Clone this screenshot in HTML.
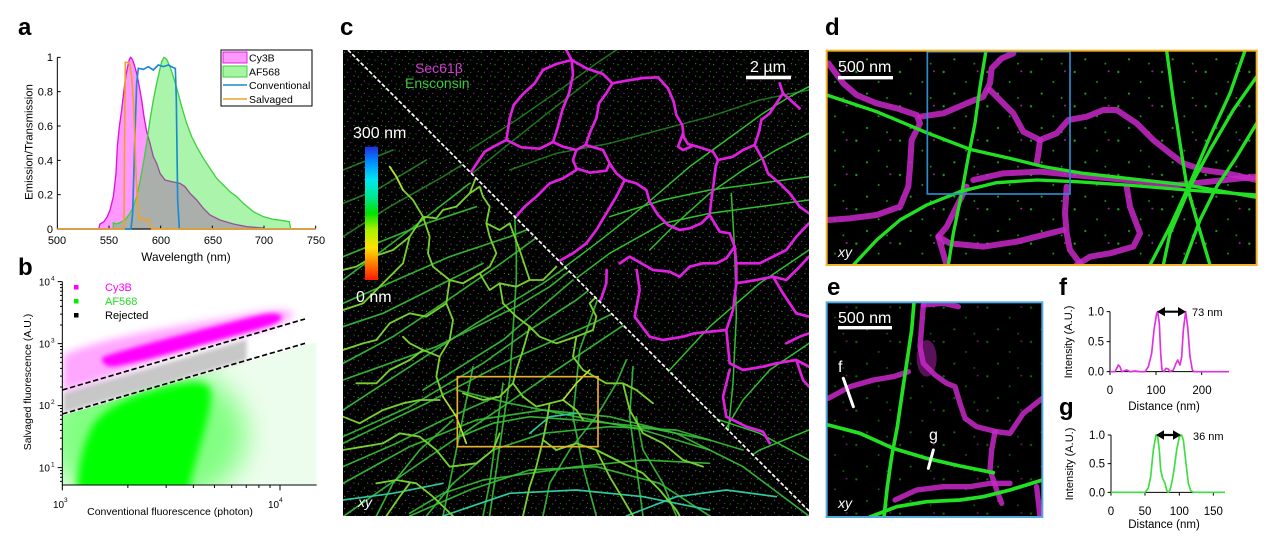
<!DOCTYPE html>
<html><head><meta charset="utf-8"><title>figure</title>
<style>
html,body{margin:0;padding:0;background:#fff;width:1269px;height:547px;overflow:hidden}
svg{display:block;font-family:"Liberation Sans",Arial,sans-serif}
</style></head><body>
<svg xmlns="http://www.w3.org/2000/svg" width="1269" height="547" viewBox="0 0 1269 547">
<defs>
<linearGradient id="cbar" x1="0" y1="1" x2="0" y2="0">
<stop offset="0" stop-color="#ff1a00"/>
<stop offset="0.12" stop-color="#ff7a00"/>
<stop offset="0.24" stop-color="#ffe000"/>
<stop offset="0.38" stop-color="#a8f000"/>
<stop offset="0.5" stop-color="#00e000"/>
<stop offset="0.62" stop-color="#00e890"/>
<stop offset="0.75" stop-color="#00e8f0"/>
<stop offset="0.88" stop-color="#0090ff"/>
<stop offset="1" stop-color="#2030e0"/>
</linearGradient>
<filter id="b6" x="-30%" y="-30%" width="160%" height="160%"><feGaussianBlur stdDeviation="6"/></filter>
<filter id="b12" x="-30%" y="-30%" width="160%" height="160%"><feGaussianBlur stdDeviation="12"/></filter>
<filter id="b40" x="-50%" y="-50%" width="200%" height="200%"><feGaussianBlur stdDeviation="40"/></filter>
<clipPath id="cpB"><rect x="187" y="110" width="763" height="610"/></clipPath>
<clipPath id="cpBG"><polygon points="187,512 915,300 950,292 950,720 187,720"/></clipPath>
<clipPath id="cpUR"><polygon points="15,0 1398,0 1398,1383"/></clipPath>
<clipPath id="cpLL"><polygon points="0,0 15,0 1398,1383 1398,1398 0,1398"/></clipPath>
<clipPath id="cpC"><rect x="0" y="0" width="1398" height="1398"/></clipPath>
<clipPath id="cpD"><rect x="50" y="152" width="1290" height="643"/></clipPath>
<clipPath id="cpE"><rect x="50" y="97" width="647" height="644"/></clipPath>
<pattern id="spk" width="41" height="37" patternUnits="userSpaceOnUse">
<circle cx="5" cy="7" r="1.7" fill="#3c3"/>
<circle cx="23" cy="19" r="1.7" fill="#c4c"/>
<circle cx="33" cy="4" r="1.4" fill="#8c8"/>
<circle cx="14" cy="30" r="1.6" fill="#3b3"/>
<circle cx="37" cy="28" r="1.3" fill="#999"/>
</pattern>
<pattern id="spk2" width="131" height="103" patternUnits="userSpaceOnUse">
<circle cx="8" cy="10" r="3.5" fill="#2c2"/>
<circle cx="75" cy="40" r="3" fill="#2b2"/>
<circle cx="110" cy="8" r="3" fill="#b3b"/>
<circle cx="40" cy="75" r="3.2" fill="#2c2"/>
<circle cx="100" cy="88" r="2.8" fill="#2b2"/>
</pattern>
</defs>

<!-- ================= PANEL A ================= -->
<text x="18" y="35" font-size="24" font-weight="bold">a</text>
<g transform="scale(0.333333)">
<path d="M296,687 L300,672 L312,665 L322,650 L330,630 L340,590 L348,520 L352,440 L358,380 L365,330 L372,270 L378,225 L383,200 L388,178 L392,172 L397,178 L403,195 L410,220 L417,255 L425,300 L432,350 L440,395 L450,430 L460,470 L470,490 L480,520 L495,540 L515,545 L540,550 L555,560 L570,580 L590,600 L610,625 L630,645 L660,660 L700,672 L740,680 L790,684 L795,687 Z" fill="#ff00ff" fill-opacity="0.4" stroke="#e010e0" stroke-width="4"/>
<path d="M340,687 L340,668 L348,672 L360,668 L375,660 L390,640 L400,620 L410,590 L420,545 L430,490 L440,430 L450,360 L460,300 L470,250 L478,215 L485,185 L492,172 L500,178 L510,200 L520,230 L532,270 L545,320 L560,370 L575,410 L590,440 L610,475 L630,505 L650,535 L670,555 L690,575 L710,590 L730,610 L760,635 L790,650 L820,658 L850,662 L868,665 L872,687 Z" fill="#00dd00" fill-opacity="0.33" stroke="#3cd23c" stroke-width="4"/>
<path d="M172,172 V687 H947" fill="none" stroke="#000" stroke-width="3"/>
<path d="M172,172 h10 M172,275 h10 M172,378 h10 M172,481 h10 M172,584 h10 M327,687 v-10 M482,687 v-10 M637,687 v-10 M792,687 v-10 M947,687 v-10" stroke="#000" stroke-width="3"/>
<path d="M172,687 L393,687 L398,640 L405,400 L410,250 L415,205 L430,208 L445,200 L460,210 L475,195 L490,200 L505,195 L520,203 L526,205 L529,300 L533,600 L538,687 L947,687" fill="none" stroke="#1a8ad4" stroke-width="5"/>
<path d="M172,687 L372,687 L374,400 L376,187 L385,187 L390,195 L395,230 L400,300 L404,400 L408,520 L412,600 L416,650 L420,660 L428,655 L435,662 L442,658 L448,665 L452,680 L456,687 L947,687" fill="none" stroke="#f0a030" stroke-width="5"/>
</g>
<g font-size="11" text-anchor="end">
<text x="53" y="61">1</text><text x="53" y="95.5">0.8</text><text x="53" y="130">0.6</text><text x="53" y="164.3">0.4</text><text x="53" y="198.7">0.2</text><text x="53" y="233">0</text>
</g>
<g font-size="11" text-anchor="middle">
<text x="57" y="244">500</text><text x="109" y="244">550</text><text x="161" y="244">600</text><text x="213" y="244">650</text><text x="264" y="244">700</text><text x="316" y="244">750</text>
</g>
<text x="186" y="261" font-size="11.8" text-anchor="middle">Wavelength (nm)</text>
<text transform="translate(32.5,142) rotate(-90)" font-size="11.3" text-anchor="middle">Emission/Transmission</text>
<rect x="221" y="50" width="91" height="56" fill="#fff" stroke="#000" stroke-width="1"/>
<rect x="223" y="52" width="24" height="11" fill="#ff99ff" stroke="#e020e0" stroke-width="1"/>
<rect x="223" y="66" width="24" height="11" fill="#a6f5a0" stroke="#40d040" stroke-width="1"/>
<line x1="223" y1="85" x2="247" y2="85" stroke="#1a8ad4" stroke-width="1.4"/>
<line x1="223" y1="99" x2="247" y2="99" stroke="#f0a030" stroke-width="1.4"/>
<g font-size="10.5">
<text x="249" y="61.3">Cy3B</text><text x="249" y="75.3">AF568</text><text x="249" y="88.8">Conventional</text><text x="249" y="102.8">Salvaged</text>
</g>

<!-- ================= PANEL B ================= -->
<text x="18" y="275" font-size="24" font-weight="bold">b</text>
<g transform="translate(0,245) scale(0.333333)">
<g clip-path="url(#cpB)">
<path d="M190,445 L740,283 L740,345 L190,505 Z" fill="#000" fill-opacity="0.22" filter="url(#b6)"/>
<g clip-path="url(#cpBG)">
<rect x="187" y="280" width="763" height="440" fill="#00e000" fill-opacity="0.07"/>
<ellipse cx="440" cy="570" rx="300" ry="220" fill="#00ff00" fill-opacity="0.45" filter="url(#b40)"/>
</g>
<path d="M270,560 C290,500 380,455 480,432 C560,410 620,400 632,435 C640,500 590,620 565,740 L230,740 C235,660 250,600 270,560 Z" fill="#00ff00" filter="url(#b12)"/>
<path d="M190,330 C300,280 500,250 700,215 C780,200 850,185 880,205 C870,240 760,260 650,290 C500,330 350,390 190,440 Z" fill="#ff00ff" fill-opacity="0.35" filter="url(#b12)"/>
<path d="M310,335 C420,300 600,255 760,215 C800,205 835,200 845,215 C845,235 800,245 740,262 C600,300 450,345 340,365 C310,365 300,345 310,335 Z" fill="#ff00ff" filter="url(#b6)"/>
</g>
<line x1="187" y1="435" x2="915" y2="222" stroke="#000" stroke-width="5" stroke-dasharray="16,8"/>
<line x1="187" y1="507" x2="915" y2="295" stroke="#000" stroke-width="5" stroke-dasharray="16,8"/>
<path d="M187,110 V720 H950" fill="none" stroke="#000" stroke-width="3"/>
<path d="M173,110H187 M180,118.5H187 M180,128H187 M180,138.8H187 M180,151.3H187 M180,166H187 M180,184H187 M180,207.2H187 M180,240H187 M173,296H187 M180,304.5H187 M180,314H187 M180,324.8H187 M180,337.3H187 M180,352H187 M180,370H187 M180,393.2H187 M180,426H187 M173,482H187 M180,490.5H187 M180,500H187 M180,510.8H187 M180,523.3H187 M180,538H187 M180,556H187 M180,579.2H187 M180,612H187 M173,668H187 M180,676.5H187 M180,686H187 M180,696.8H187 M180,709.3H187" stroke="#000" stroke-width="3"/>
<path d="M187,720V736 M383.6,720V729 M498.5,720V729 M580.1,720V729 M643.4,720V729 M695.1,720V729 M738.8,720V729 M776.7,720V729 M810.1,720V729 M840,720V736" stroke="#000" stroke-width="3"/>
</g>
<rect x="74" y="285" width="4.5" height="4.5" fill="#ff00ff"/>
<rect x="74" y="299" width="4.5" height="4.5" fill="#00ee00"/>
<rect x="74" y="313" width="4.5" height="4.5" fill="#000"/>
<g font-size="11">
<text x="105" y="291" fill="#ff00ff">Cy3B</text>
<text x="105" y="305" fill="#22dd22">AF568</text>
<text x="105" y="319" fill="#000">Rejected</text>
</g>
<g font-size="10">
<text x="50" y="285.5" text-anchor="end">10</text><text x="51" y="280.5" font-size="6.5">4</text>
<text x="50" y="347.5" text-anchor="end">10</text><text x="51" y="342.5" font-size="6.5">3</text>
<text x="50" y="409" text-anchor="end">10</text><text x="51" y="404" font-size="6.5">2</text>
<text x="50" y="471.5" text-anchor="end">10</text><text x="51" y="466.5" font-size="6.5">1</text>
<text x="53" y="508">10</text><text x="64" y="502" font-size="6.5">3</text>
<text x="268" y="508">10</text><text x="279" y="502" font-size="6.5">4</text>
</g>
<text x="170" y="515" font-size="10.5" text-anchor="middle">Conventional fluorescence (photon)</text>
<text transform="translate(31,382) rotate(-90)" font-size="10.5" text-anchor="middle">Salvaged fluorescence (A.U.)</text>

<!-- ================= PANEL C ================= -->
<text x="340" y="35" font-size="24" font-weight="bold">c</text>
<g transform="translate(343,50) scale(0.333333)">
<g clip-path="url(#cpC)">
<rect x="0" y="0" width="1398" height="1398" fill="#000"/>
<rect x="0" y="0" width="1398" height="1398" fill="url(#spk)"/>
<g clip-path="url(#cpLL)" fill="none" stroke-linecap="round" stroke-linejoin="round">
<g stroke="#38c038" stroke-width="5" stroke-opacity="0.9">
<path d="M0,1400 L200,1260 L420,1110 L640,960 L880,800"/>
<path d="M0,1080 L200,950 L400,820 L600,700 L800,560"/>
<path d="M0,940 L150,860 L300,760 L460,650 L640,520"/>
<path d="M0,690 L200,540 L380,400"/>
<path d="M0,560 L140,470 L300,380 L460,280" stroke-opacity="0.6"/>
<path d="M0,1300 L200,1190 L400,1110 L600,1080 L800,1100 L1000,1150 L1200,1250 L1398,1398"/>
<path d="M250,1398 L330,1300 L450,1200 L600,1150 L800,1130 L1000,1140 L1200,1200"/>
<path d="M340,1020 L500,1060 L700,1100 L900,1140 L1100,1200"/>
<path d="M520,690 L510,840 L500,990 L470,1190 L440,1398"/>
<path d="M510,400 L520,600 L520,690"/>
<path d="M770,730 L710,900 L690,1100 L720,1250 L760,1398"/>
<path d="M420,1398 L440,1300 L460,1150 L480,1000"/>
<path d="M0,1250 L160,1180 L300,1110 L460,1040"/>
<path d="M1000,1398 L960,1300 L900,1200 L880,1100"/>
<path d="M600,1398 L620,1300 L680,1200 L760,1100 L820,1000 L850,930"/>
<path d="M0,830 L120,790 L260,720 L420,640"/>
<path d="M200,1398 L380,1320 L560,1260 L760,1250 L950,1300 L1100,1398"/>
<path d="M100,1398 L150,1300 L230,1200 L330,1110"/>
<path d="M0,460 L100,420 L250,330" stroke-opacity="0.6"/>
<path d="M0,360 L150,300" stroke-opacity="0.6"/>
<path d="M0,760 L160,690 L320,620 L500,560 L700,480"/>
<path d="M0,1180 L250,1060 L500,930 L750,820 L950,720"/>
<path d="M0,990 L140,940 L280,890 L400,830 L520,770 L620,710 L760,600"/>
<path d="M0,1160 L200,1070 L420,940 L560,840 L700,750 L840,640"/>
<path d="M240,1020 L480,870 L690,690"/>
<path d="M350,1160 L450,1120 L560,1100 L700,1110 L900,1130 L1100,1170"/>
<path d="M200,1390 L300,1330 L420,1290 L560,1270 L700,1250 L900,1230 L1100,1240"/>
<path d="M0,620 L100,580 L250,520 L400,470"/>
<path d="M300,1398 L330,1250 L360,1100 L390,950"/>
<path d="M900,1398 L880,1250 L860,1100 L870,950"/>
</g>
<g stroke="#30c8a0" stroke-width="5">
<path d="M300,1398 L500,1330 L700,1320 L900,1340 L1100,1380"/>
<path d="M0,1350 L150,1330 L300,1300"/>
<path d="M850,1398 L1000,1340 L1150,1320 L1300,1340"/>
<path d="M560,1150 L620,1100 L700,1090"/>
</g>
<g stroke="#78d030" stroke-width="5.5">
<path d="M140,350 L160,380 L180,420 L210,450 L240,500 L280,505 L300,480 L340,470 L380,430 L410,410 L420,440 L440,470 L430,520 L470,540 L500,520"/>
<path d="M240,500 L260,560 L255,610 L270,650 L320,690 L360,700 L410,670 L440,650 L460,610 L440,560 L430,520"/>
<path d="M320,690 L310,760 L330,810 L320,870 L290,920 L280,980 L300,1040"/>
<path d="M410,670 L440,720 L470,700 L520,710 L560,690 L600,690 L640,650"/>
<path d="M470,700 L480,760 L520,800 L560,830 L590,860 L640,880 L700,860 L750,840 L760,800 L740,760 L760,740"/>
<path d="M560,830 L540,900 L520,960 L510,1000 L540,1040 L580,1070 L620,1060 L660,1050 L700,1080 L720,1110"/>
<path d="M360,1030 L420,1050 L470,1040 L510,1000"/>
<path d="M620,1060 L610,1120 L600,1170 L640,1200 L700,1180 L760,1200 L820,1230 L860,1250"/>
<path d="M240,500 L200,560 L150,600 L90,620 L40,650 L0,660"/>
<path d="M0,900 L60,880 L100,870 L140,820 L200,790 L250,800 L310,760"/>
<path d="M0,1100 L50,1120 L120,1080 L180,1060 L230,1050 L290,1050"/>
<path d="M290,920 L240,900 L200,880 L180,860"/>
<path d="M0,1200 L60,1190 L120,1180 L170,1150 L230,1160 L280,1200 L320,1250 L400,1240 L450,1200 L470,1150"/>
<path d="M100,1300 L160,1290 L220,1300 L270,1340 L330,1398"/>
<path d="M600,1170 L580,1250 L560,1310 L540,1398"/>
<path d="M860,1250 L900,1270 L950,1320 L1000,1380 L1010,1398"/>
<path d="M760,1200 L800,1280 L830,1330 L870,1398"/>
<path d="M0,780 L60,760 L100,720 L140,680 L180,640 L200,560"/>
<path d="M700,860 L690,920 L720,960 L790,1000 L840,1000 L880,1020 L930,1060"/>
<path d="M40,1000 L100,1000 L140,960 L200,930 L240,900"/>
<path d="M380,430 L400,380 L420,330"/>
<path d="M500,520 L530,600 L560,690"/>
<path d="M840,1000 L860,1080 L900,1150 L960,1180 L1020,1230 L1080,1250"/>
<path d="M130,1398 L170,1340 L200,1300"/>
</g>
<g stroke="#b8e030" stroke-width="5">
<path d="M140,350 L160,380 L180,420"/>
<path d="M300,1040 L340,1100 L370,1180"/>
<path d="M660,1050 L700,1000 L740,960"/>
</g>
</g>
<g clip-path="url(#cpUR)" fill="none" stroke-linecap="round" stroke-linejoin="round">
<g stroke="#2fbf2f" stroke-width="4.5">
<path d="M600,700 L760,580 L900,470 L1040,350 L1150,270 L1260,190 L1340,140 L1398,110"/>
<path d="M680,700 L800,610 L960,520 L1100,490 L1250,470 L1398,450"/>
<path d="M800,500 L960,450 L1100,420 L1250,400 L1398,380"/>
<path d="M500,360 L640,310 L800,280 L950,240 L1100,200 L1250,150 L1398,120" stroke-opacity="0.6"/>
<path d="M1165,430 L1175,600 L1180,800 L1170,1000 L1150,1200 L1130,1398"/>
<path d="M1398,600 L1250,700 L1100,830 L980,960 L900,1100 L830,1250 L780,1398"/>
<path d="M1398,880 L1280,960 L1200,1050 L1140,1150 L1110,1250 L1100,1398"/>
<path d="M760,1150 L950,1090 L1100,1100 L1250,1150 L1398,1230"/>
<path d="M1000,1398 L1100,1300 L1250,1200 L1398,1140"/>
<path d="M1398,250 L1300,300 L1200,360 L1100,430 L1000,520 L920,600"/>
<path d="M380,300 L520,210 L650,120 L760,40 L820,0" stroke-opacity="0.6"/>
<path d="M0,680 L200,520 L400,360 L600,200 L780,60" stroke-opacity="0.6"/>
</g>
<g stroke="#e020e0" stroke-width="8">
<path d="M670,0 L686,30 L640,42 L600,60 L575,100 L540,132 L512,165 L500,205 L494,245 L490,270 L455,288 L425,305 L405,335 L380,372"/>
<path d="M490,270 L535,292 L590,296 L630,276 L642,240 L658,180 L678,130 L690,75 L686,30"/>
<path d="M686,30 L730,55 L780,72 L808,100 L790,130 L768,160 L760,205 L742,245 L728,285 L700,300 L660,290 L630,276"/>
<path d="M808,100 L850,92 L900,84 L945,82 L975,115 L992,155 L1000,195 L1018,225 L1022,262 L1035,282 L1070,292 L1110,305 L1125,330"/>
<path d="M728,285 L752,292 L780,300 L800,340 L820,370 L845,390 L880,400 L910,420 L920,455 L945,495 L975,525 L1010,540 L1040,535 L1075,520 L1100,495 L1105,450 L1112,400 L1118,350 L1125,330"/>
<path d="M700,300 L690,330 L700,355 L740,368 L790,362 L800,340"/>
<path d="M700,360 L660,385 L620,400 L580,440 L545,470 L510,510"/>
<path d="M845,390 L820,440 L790,490 L760,540 L730,580 L690,610 L645,635"/>
<path d="M1125,330 L1170,320 L1200,300 L1235,285 L1248,245 L1255,210 L1280,190 L1300,160 L1320,130 L1310,100"/>
<path d="M1320,130 L1370,175"/>
<path d="M1235,285 L1260,330 L1275,370 L1310,400 L1340,430 L1370,470 L1398,490"/>
<path d="M1020,250 L1005,290 L1020,300 L1045,290"/>
<path d="M1100,495 L1130,545 L1160,550 L1175,590 L1150,625 L1120,640 L1080,640 L1040,650 L1010,680 L980,665 L930,660 L895,640 L860,620 L830,640"/>
<path d="M791,660 L790,700 L775,745 L765,765"/>
<path d="M881,660 L890,720 L875,800 L920,860 L960,870 L1020,860 L1055,850 L1150,840 L1170,780 L1180,700 L1180,640 L1175,590"/>
<path d="M1150,840 L1160,940 L1200,960 L1260,950 L1300,940 L1360,930 L1398,950"/>
<path d="M1160,960 L1140,1040 L1150,1100 L1210,1130 L1260,1145 L1280,1180"/>
<path d="M1180,700 L1240,690 L1290,680 L1330,690 L1370,650 L1398,620"/>
<path d="M1290,680 L1320,730 L1360,790 L1398,800"/>
<path d="M1330,880 L1370,860 L1398,850"/>
<path d="M1360,930 L1380,990 L1398,1010"/>
<path d="M1398,520 L1360,560 L1330,600 L1290,620 L1250,640 L1180,640"/>
</g>
</g>
<line x1="15" y1="0" x2="1398" y2="1383" stroke="#fff" stroke-width="5" stroke-dasharray="12,6"/>
<rect x="343" y="980" width="422" height="210" fill="none" stroke="#e8b030" stroke-width="5"/>
</g>
</g>
<rect x="365" y="146.7" width="13" height="133.3" fill="url(#cbar)"/>
<text x="353" y="138" font-size="16" fill="#fff">300 nm</text>
<text x="356" y="302" font-size="16" fill="#fff">0 nm</text>
<text x="415" y="73" font-size="14" fill="#d23cd2">Sec61β</text>
<text x="405" y="88" font-size="14" fill="#3cc83c">Ensconsin</text>
<text x="750" y="72" font-size="16" fill="#fff">2 µm</text>
<rect x="746" y="75.7" width="45" height="3.6" fill="#fff"/>
<text x="358" y="507" font-size="14" font-style="italic" fill="#fff">xy</text>

<!-- ================= PANEL D ================= -->
<text x="825" y="35" font-size="24" font-weight="bold">d</text>
<g transform="translate(810,0) scale(0.333333)">
<g clip-path="url(#cpD)" fill="none" stroke-linecap="round" stroke-linejoin="round">
<rect x="50" y="152" width="1290" height="643" fill="#000"/>
<rect x="50" y="152" width="1290" height="643" fill="url(#spk2)" opacity="0.8"/>
<g stroke="#c828c8" stroke-width="18" stroke-opacity="0.85">
<path d="M55,190 L100,250 L140,285 L200,310 L260,325 L320,345 L330,370 L305,420 L300,500 L295,560 L270,620 L200,645 L120,655 L55,660"/>
<path d="M330,350 L400,340 L470,310 L520,290 L540,250 L545,205 L575,175 L610,160"/>
<path d="M540,270 L570,300 L610,340 L640,395 L690,420 L740,400 L775,360 L830,350 L880,330 L920,330 L980,370 L1030,420 L1080,460 L1120,490 L1180,510 L1250,520 L1340,540"/>
<path d="M690,420 L685,460 L680,490"/>
<path d="M490,540 L580,520 L690,515 L790,525 L900,535 L1000,545 L1100,555 L1200,545 L1340,530"/>
<path d="M470,560 L440,620 L410,680 L385,710 L420,730 L520,740 L620,725 L720,700 L760,690"/>
<path d="M770,560 L765,640 L770,700 L780,750 L810,790"/>
<path d="M950,560 L960,620 L990,700 L970,740 L900,760 L840,770 L800,795"/>
<path d="M385,710 L400,760 L410,795"/>
</g>
<g stroke="#22e022" stroke-width="10">
<path d="M50,285 L200,335 L350,398 L480,448 L600,475 L700,500 L820,520 L950,535 L1130,555 L1340,592"/>
<path d="M130,795 L200,720 L270,660 L350,615 L450,575 L560,548 L680,540 L800,545 L950,555 L1130,570 L1340,585"/>
<path d="M528,152 L510,260 L495,370 L475,470 L455,580 L430,700 L415,795"/>
<path d="M1070,152 L1090,300 L1110,430 L1130,555 L1160,660 L1200,795"/>
<path d="M1305,152 L1260,280 L1200,410 L1140,550 L1080,680 L1020,795"/>
<path d="M1340,230 L1270,330 L1200,450 L1140,560 L1080,700 L1060,795"/>
<path d="M1340,370 L1280,470 L1220,560 L1170,660 L1120,795"/>
</g>
</g>
<rect x="352" y="155" width="428" height="427" fill="none" stroke="#2a8ccd" stroke-width="5"/>
<rect x="50" y="152" width="1290" height="643" fill="none" stroke="#f0b428" stroke-width="6"/>
</g>
<text x="838" y="72" font-size="16" fill="#fff">500 nm</text>
<rect x="838" y="76" width="55" height="3.4" fill="#fff"/>
<text x="838" y="257" font-size="14" font-style="italic" fill="#fff">xy</text>

<!-- ================= PANEL E ================= -->
<text x="827" y="295" font-size="24" font-weight="bold">e</text>
<g transform="translate(810,270) scale(0.333333)">
<g clip-path="url(#cpE)" fill="none" stroke-linecap="round" stroke-linejoin="round">
<rect x="50" y="97" width="647" height="644" fill="#000"/>
<rect x="50" y="97" width="647" height="644" fill="url(#spk2)" opacity="0.5"/>
<ellipse cx="350" cy="265" rx="30" ry="55" fill="#c828c8" fill-opacity="0.45"/>
<g stroke="#c828c8" stroke-width="16" stroke-opacity="0.85">
<path d="M55,385 L120,350 L190,330 L250,320 L295,305"/>
<path d="M340,105 L335,170 L330,230 L340,280 L375,315 L410,340 L435,350 L450,400 L465,445 L500,470 L560,485 L600,490 L640,430 L697,385"/>
<path d="M340,105 L400,100 L445,110"/>
<path d="M555,485 L545,540 L540,600 L560,660 L575,700"/>
<path d="M255,690 L320,660 L400,650 L480,650 L540,640 L600,640"/>
<path d="M680,650 L690,741"/>
</g>
<g stroke="#22e022" stroke-width="11">
<path d="M312,97 L305,180 L290,280 L275,380 L262,470 L245,560 L232,650 L222,741"/>
<path d="M55,465 L150,490 L250,535 L350,565 L450,588 L550,608"/>
<path d="M180,741 L260,710 L350,695 L450,690 L520,680 L600,660 L697,630"/>
</g>
<line x1="100" y1="325" x2="130" y2="410" stroke="#fff" stroke-width="9"/>
<line x1="370" y1="540" x2="355" y2="595" stroke="#fff" stroke-width="9"/>
</g>
<rect x="50" y="97" width="647" height="644" fill="none" stroke="#50aadc" stroke-width="6"/>
<path d="M900,125 V305 H1257 M890,125 H900 M890,215 H900 M890,305 H900 M900,305 V315 M1038,305 V315 M1175,305 V315" fill="none" stroke="#000" stroke-width="3"/>
<path d="M900,305 L915,305 L920,295 L925,285 L930,290 L935,305 L950,300 L960,305 L975,303 L990,305 L1005,305 L1015,290 L1025,250 L1032,180 L1040,130 L1043,125 L1048,160 L1052,250 L1056,300 L1062,305 L1068,295 L1075,297 L1080,305 L1090,300 L1098,280 L1103,270 L1110,285 L1115,260 L1120,180 L1127,125 L1133,170 L1140,260 L1147,300 L1152,305 L1257,305" fill="none" stroke="#e030e0" stroke-width="5" stroke-linejoin="round"/>
<path d="M903,495 V667 H1245 M893,495 H903 M893,581 H903 M893,667 H903 M903,667 V677 M1005,667 V677 M1108,667 V677 M1210,667 V677" fill="none" stroke="#000" stroke-width="3"/>
<path d="M903,667 L1005,667 L1015,655 L1022,620 L1030,540 L1038,495 L1043,500 L1048,540 L1052,600 L1058,625 L1065,640 L1070,660 L1075,667 L1080,660 L1085,640 L1092,600 L1100,540 L1108,500 L1115,495 L1120,510 L1128,580 L1135,640 L1142,662 L1150,667 L1245,667" fill="none" stroke="#40dd40" stroke-width="5" stroke-linejoin="round"/>
</g>
<text x="838" y="323" font-size="16" fill="#fff">500 nm</text>
<rect x="838" y="326" width="54" height="3.4" fill="#fff"/>
<text x="838" y="372" font-size="16" fill="#fff">f</text>
<text x="929" y="440" font-size="16" fill="#fff">g</text>
<text x="838" y="508" font-size="14" font-style="italic" fill="#fff">xy</text>

<!-- ================= PANEL F ================= -->
<text x="1059" y="295" font-size="24" font-weight="bold">f</text>
<g font-size="11.5" text-anchor="end">
<text x="1104" y="315.7">1.0</text><text x="1104" y="345.7">0.5</text><text x="1104" y="375.7">0.0</text>
</g>
<g font-size="11.5" text-anchor="middle">
<text x="1110" y="394">0</text><text x="1156" y="394">100</text><text x="1202" y="394">200</text>
</g>
<text x="1164" y="410" font-size="11.5" text-anchor="middle">Distance (nm)</text>
<text transform="translate(1072,342) rotate(-90)" font-size="11" text-anchor="middle">Intensity (A.U.)</text>
<line x1="1162" y1="311.7" x2="1181" y2="311.7" stroke="#000" stroke-width="2.2"/>
<polygon points="1157,311.7 1165,307 1165,316.4" fill="#000"/>
<polygon points="1186,311.7 1178,307 1178,316.4" fill="#000"/>
<text x="1192" y="316" font-size="11">73 nm</text>

<!-- ================= PANEL G ================= -->
<text x="1059" y="415" font-size="24" font-weight="bold">g</text>
<g font-size="11.5" text-anchor="end">
<text x="1105" y="439">1.0</text><text x="1105" y="467.7">0.5</text><text x="1105" y="496.3">0.0</text>
</g>
<g font-size="11.5" text-anchor="middle">
<text x="1111" y="515">0</text><text x="1145" y="515">50</text><text x="1179.3" y="515">100</text><text x="1213.3" y="515">150</text>
</g>
<text x="1164" y="528" font-size="11.5" text-anchor="middle">Distance (nm)</text>
<text transform="translate(1073,464) rotate(-90)" font-size="11" text-anchor="middle">Intensity (A.U.)</text>
<line x1="1160" y1="435" x2="1177" y2="435" stroke="#000" stroke-width="2.2"/>
<polygon points="1156,435 1164,430.3 1164,439.7" fill="#000"/>
<polygon points="1181,435 1173,430.3 1173,439.7" fill="#000"/>
<text x="1193" y="440" font-size="11">36 nm</text>
</svg>
</body></html>
